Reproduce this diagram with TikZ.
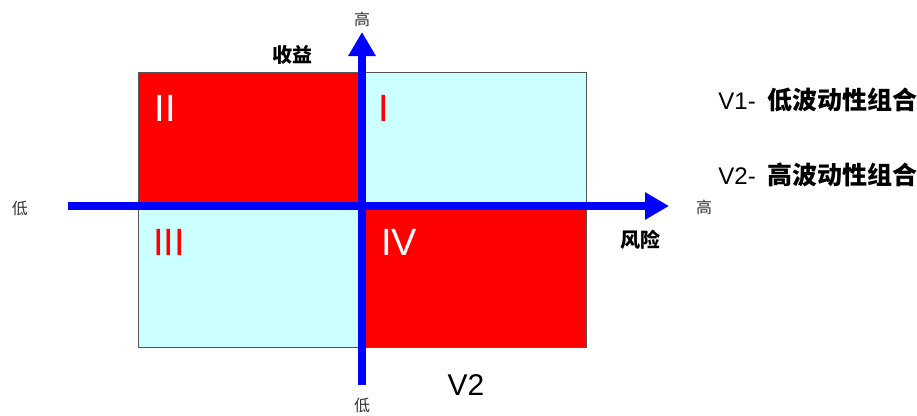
\documentclass[tikz,border=0pt]{standalone}
\usepackage{fontspec}
\setmainfont{Liberation Sans}
\newfontfamily\cjk{Noto Sans CJK SC}
\usetikzlibrary{arrows.meta}
\definecolor{qred}{HTML}{FF0000}
\definecolor{qcyan}{HTML}{CCFFFF}
\definecolor{qblue}{HTML}{0000FF}
\definecolor{qgray}{HTML}{555555}
\definecolor{qtext}{HTML}{333333}
\tikzset{
  quad/.style={draw=qgray,line width=1pt},
  axis/.style={qblue,line width=8pt,-{Triangle[width=26pt,length=24pt]}},
  small/.style={font=\cjk\fontsize{16}{18}\selectfont,text=qtext,inner sep=1pt},
  boldlab/.style={font=\cjk\bfseries\fontsize{20}{22}\selectfont,inner sep=1pt},
  roman/.style={font=\fontsize{38}{40}\selectfont,inner sep=0pt},
  legend/.style={font=\fontsize{24}{26}\selectfont,inner sep=0pt,anchor=east}
}
\begin{document}
\begin{tikzpicture}[x=1pt,y=-1pt]
\useasboundingbox (0,0) rectangle (917,415);
\fill[qred] (138,72) rectangle (360,205);
\fill[qcyan] (360,72) rectangle (586,205);
\fill[qcyan] (138,205) rectangle (360,347);
\fill[qred] (360,205) rectangle (586,347);
\draw[quad] (138,72) rectangle (586,347);
\coordinate (vb) at (362,385);
\coordinate (vt) at (362,32);
\coordinate (hl) at (68,206);
\coordinate (hr) at (669,206);
\draw[axis] (vb) -- (vt);
\draw[axis] (hl) -- (hr);
\node[small] (ytop) at (362,19) {高};
\node[small] (ybot) at (362,405) {低};
\node[small] (xl) at (20,208) {低};
\node[small] (xr) at (704,207) {高};
\node[boldlab] (ylab) at (292,55) {收益};
\node[boldlab] (xlab) at (640,240) {风险};
\node[roman,text=white] (q2) at (165,108) {II};
\node[roman,text=qred] (q1) at (384,108) {I};
\node[roman,text=qred] (q3) at (169,242) {III};
\node[roman,text=white] (q4) at (399,242) {IV};
\node[font=\fontsize{30}{32}\selectfont,inner sep=0pt] (v2) at (466,385) {V2};
\node[legend] (l1) at (918,100) {V1-\hspace{12pt}{\cjk\bfseries\fontsize{25}{27}\selectfont 低波动性组合}};
\node[legend] (l2) at (918,175) {V2-\hspace{12pt}{\cjk\bfseries\fontsize{25}{27}\selectfont 高波动性组合}};
\end{tikzpicture}
\end{document}
